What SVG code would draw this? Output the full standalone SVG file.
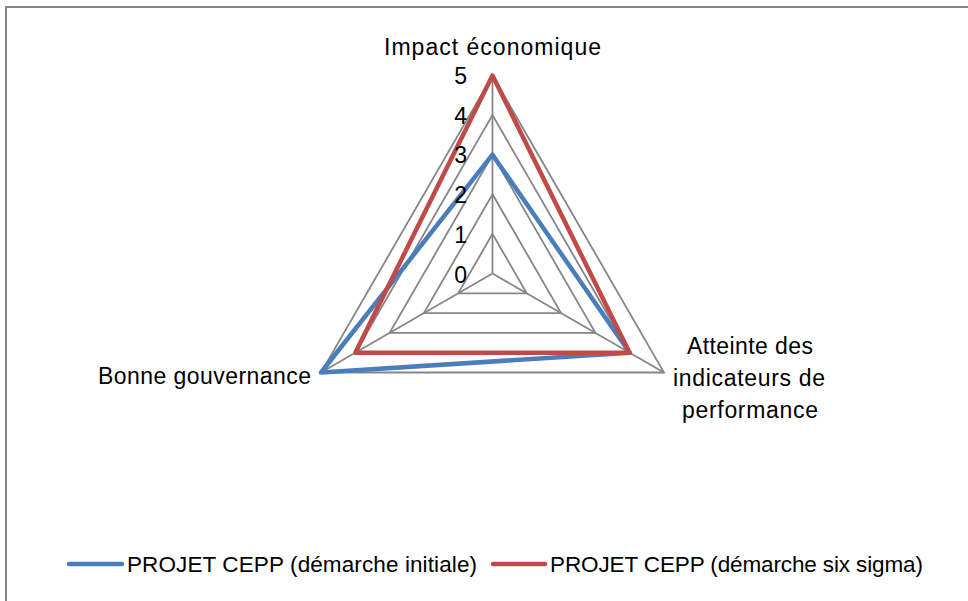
<svg xmlns="http://www.w3.org/2000/svg" width="968" height="601" viewBox="0 0 968 601">
<style>
  text { font-family: "Liberation Sans", Arial, sans-serif; font-size: 23px; fill: #000; }
  .lg { font-size: 22.5px; }
  .grid { fill: none; stroke: #868686; stroke-width: 1.8; }
  .blue { fill: none; stroke: #4A7EBB; stroke-width: 4.5; stroke-linejoin: round; }
  .red { fill: none; stroke: #BE4B48; stroke-width: 4.5; stroke-linejoin: round; }
  .leg { stroke-width: 4.5; stroke-linecap: round; }
</style>
<rect x="0" y="0" width="968" height="601" fill="#ffffff"/>
<rect x="6" y="7" width="980" height="620" fill="none" stroke="#868686" stroke-width="2"/>

<g id="grid">
  <polygon class="grid" points="492.5,233.9 526.79,293.3 458.21,293.3"/>
  <polygon class="grid" points="492.5,194.3 561.09,313.1 423.91,313.1"/>
  <polygon class="grid" points="492.5,154.7 595.38,332.9 389.62,332.9"/>
  <polygon class="grid" points="492.5,115.1 629.68,352.7 355.32,352.7"/>
  <polygon class="grid" points="492.5,75.5 663.97,372.5 321.03,372.5"/>
  <line class="grid" x1="492.5" y1="273.5" x2="492.5" y2="75.5"/>
  <line class="grid" x1="492.5" y1="273.5" x2="663.97" y2="372.5"/>
  <line class="grid" x1="492.5" y1="273.5" x2="321.03" y2="372.5"/>
</g>

<g id="connectors">
  <polygon id="series-initiale" class="blue" points="492.5,154.7 629.68,352.7 321.03,372.5"/>
  <polygon id="series-sixsigma" class="red" points="492.5,75.5 629.68,352.7 355.32,352.7"/>
</g>

<g id="scale" text-anchor="end">
  <text x="467" y="84">5</text>
  <text x="467" y="124">4</text>
  <text x="467" y="163">3</text>
  <text x="467" y="203">2</text>
  <text x="467" y="243">1</text>
  <text x="467" y="283">0</text>
</g>

<g id="axis-impact">
  <text x="384" y="55" textLength="217" lengthAdjust="spacing">Impact économique</text>
</g>
<g id="axis-atteinte" text-anchor="middle">
  <text x="750" y="354" textLength="126" lengthAdjust="spacing">Atteinte des</text>
  <text x="749" y="386" textLength="152" lengthAdjust="spacing">indicateurs de</text>
  <text x="750" y="418" textLength="136" lengthAdjust="spacing">performance</text>
</g>
<g id="axis-gouvernance">
  <text x="98" y="384" textLength="213" lengthAdjust="spacing">Bonne gouvernance</text>
</g>

<g id="legend">
  <line class="leg" x1="69" y1="564" x2="122" y2="564" stroke="#4A7EBB"/>
  <text class="lg" x="127" y="572" textLength="350" lengthAdjust="spacing">PROJET CEPP (démarche initiale)</text>
  <line class="leg" x1="493" y1="564" x2="545" y2="564" stroke="#BE4B48"/>
  <text class="lg" x="550" y="572" textLength="373" lengthAdjust="spacing">PROJET CEPP (démarche six sigma)</text>
</g>
</svg>
